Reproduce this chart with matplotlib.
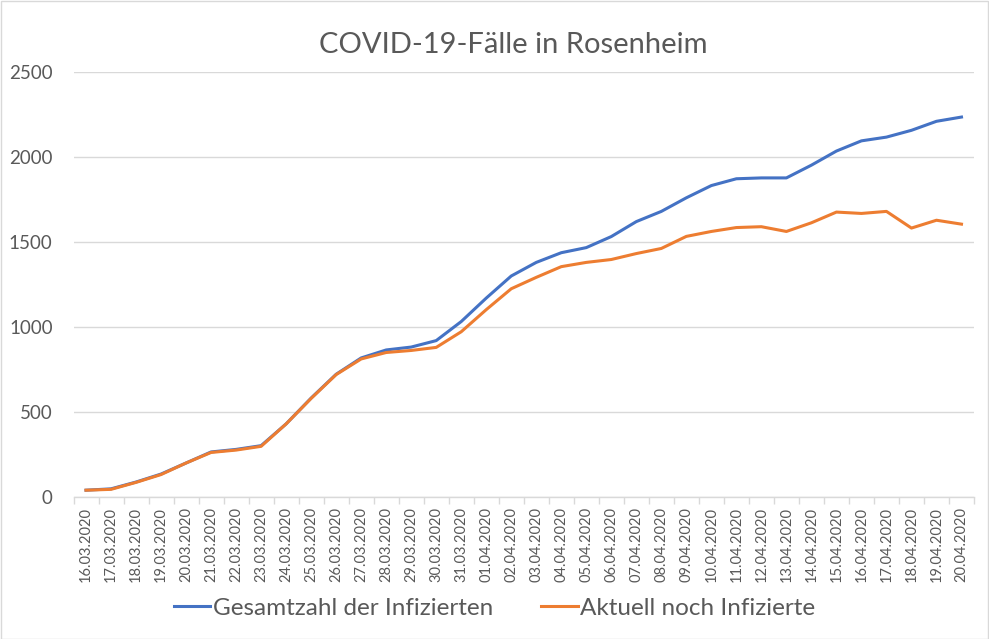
import matplotlib
matplotlib.use("Agg")
import matplotlib.pyplot as plt
from matplotlib.patches import Rectangle

plt.rcParams['font.family'] = ['Lato', 'DejaVu Sans']

dates = ["16.03.2020", "17.03.2020", "18.03.2020", "19.03.2020", "20.03.2020", "21.03.2020",
         "22.03.2020", "23.03.2020", "24.03.2020", "25.03.2020", "26.03.2020", "27.03.2020",
         "28.03.2020", "29.03.2020", "30.03.2020", "31.03.2020", "01.04.2020", "02.04.2020",
         "03.04.2020", "04.04.2020", "05.04.2020", "06.04.2020", "07.04.2020", "08.04.2020",
         "09.04.2020", "10.04.2020", "11.04.2020", "12.04.2020", "13.04.2020", "14.04.2020",
         "15.04.2020", "16.04.2020", "17.04.2020", "18.04.2020", "19.04.2020", "20.04.2020"]

gesamt = [40, 48, 88, 135, 200, 265, 280, 302, 430, 582, 722, 818,
          865, 882, 920, 1032, 1170, 1300, 1380, 1437, 1467, 1532,
          1620, 1680, 1760, 1832, 1872, 1877, 1877, 1952, 2035, 2095,
          2117, 2157, 2210, 2235]

aktuell = [40, 45, 86, 132, 200, 262, 276, 298, 430, 580, 720, 812,
           850, 862, 880, 972, 1102, 1225, 1292, 1355, 1380, 1397,
           1432, 1462, 1533, 1562, 1585, 1590, 1562, 1613, 1676, 1668,
           1680, 1582, 1628, 1605]

series_names = ["Gesamtzahl der Infizierten", "Aktuell noch Infizierte"]
title = "COVID-19-Fälle in Rosenheim"

W, H = 989, 639
fig = plt.figure(figsize=(W / 100, H / 100), dpi=100)
fig.patches.append(Rectangle((0.5 / W, 0.5 / H), 1 - 1.5 / W, 1 - 1.5 / H, transform=fig.transFigure,
                             fill=False, edgecolor='#D9D9D9', linewidth=1))

ax = fig.add_axes([73.5 / W, 1 - 497 / H, (974 - 73.5) / W, (497 - 72) / H])
x = list(range(len(dates)))
l1, = ax.plot(x, gesamt, color='#4472C4', linewidth=2.2, solid_joinstyle='round', zorder=3)
l2, = ax.plot(x, aktuell, color='#ED7D31', linewidth=2.2, solid_joinstyle='round', zorder=4)

ax.set_xlim(-0.5, len(dates) - 0.5)
ax.set_ylim(0, 2500)
ax.set_yticks([0, 500, 1000, 1500, 2000, 2500])
ax.yaxis.grid(True, color='#D9D9D9', linewidth=1)
ax.set_axisbelow(True)
for s in ['top', 'right', 'left']:
    ax.spines[s].set_visible(False)
ax.spines['bottom'].set_color('#D9D9D9')
ax.spines['bottom'].set_linewidth(1)

ax.set_xticks(x)
ax.set_xticklabels(dates, rotation=90, fontsize=10.5, color='#595959')
ax.set_xticks([i - 0.5 for i in range(len(dates) + 1)], minor=True)
ax.tick_params(axis='x', which='major', length=0, pad=7)
ax.tick_params(axis='x', which='minor', length=5, color='#D9D9D9', width=1)
ax.tick_params(axis='y', length=0, pad=15, labelsize=13.5, labelcolor='#595959')

fig.text(513 / W, 1 - 45 / H, title, ha='center', va='center', fontsize=21, color='#595959')

fig.legend([l1, l2], series_names, loc='center', bbox_to_anchor=(0.5, 1 - 608 / H), ncol=2,
           frameon=False, fontsize=17.5, labelcolor='#595959', handlelength=1.5,
           handletextpad=0.1, columnspacing=2.0)

fig.savefig("out.png", dpi=100)
